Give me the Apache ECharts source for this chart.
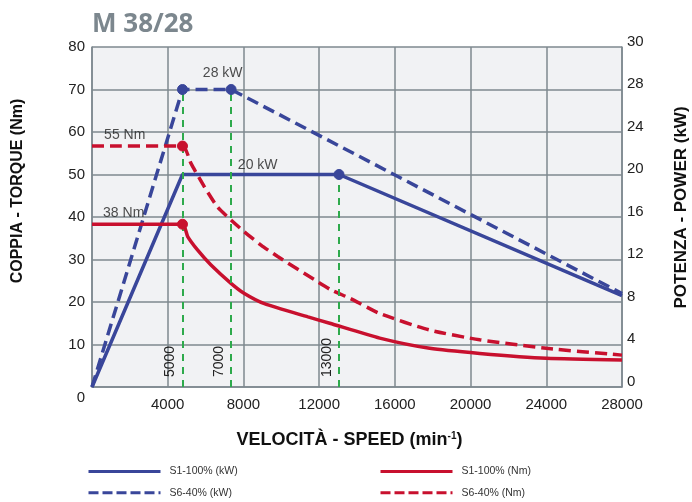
<!DOCTYPE html>
<html>
<head>
<meta charset="utf-8">
<script src="https://cdn.jsdelivr.net/npm/echarts@6/dist/echarts.min.js"></script>
<style>html,body{margin:0;padding:0;background:#fff}#c{width:692px;height:502px}</style>
</head>
<body>
<div id="c"></div>
<script>
// ---- data ----
const titleText = 'M 38/28';
const xTickLabels = ['', '4000', '8000', '12000', '16000', '20000', '24000', '28000'];
const leftTickLabels = ['0', '10', '20', '30', '40', '50', '60', '70', '80'];
const rightTickLabels = ['0', '4', '8', '12', '16', '20', '24', '28', '30'];

const s1kWSpeed = [0, 4780, 13050, 28000];
const s1kWPower = [0, 20, 20, 8.6];
const s6kWSpeed = [0, 4780, 7350, 28000];
const s6kWPower = [0, 28, 28, 8.8];

const s1NmSpeed = [0, 4780, 5056, 5584, 6287, 7343, 8051, 9108, 11411, 12558, 15199, 17840, 20482, 24006, 28000];
const s1NmTorque = [38.3, 38.3, 35.4, 32.2, 28.7, 24.4, 22.0, 19.6, 16.5, 15.0, 11.5, 9.1, 7.9, 6.75, 6.35];
const s6NmSpeed = [0, 4780, 5230, 5938, 6641, 7343, 8051, 8928, 9811, 11766, 12648, 13615, 15199, 17840, 20482, 24006, 28000];
const s6NmTorque = [56.7, 56.7, 52.6, 47.1, 42.3, 39.3, 36.5, 33.4, 30.7, 25.2, 22.8, 20.9, 17.3, 13.4, 11.1, 9.1, 7.5];

const kWDotSpeed = [4780, 7350, 13050];
const kWDotPower = [28, 28, 20];
const NmDotSpeed = [4780, 4780];
const NmDotTorque = [56.7, 38.3];

const refSpeed = [4780, 7350, 13050];
const refTop = [70, 70, 50];
const refLabels = ['5000', '7000', '13000'];

const annoText = ['28 kW', '20 kW', '55 Nm', '38 Nm'];
const annoX = [6905, 8754, 1728, 1675];
const annoY = [73.9, 52.2, 59.3, 40.9];

const legendNames = ['S1-100% (kW)', 'S6-40% (kW)', 'S1-100% (Nm)', 'S6-40% (Nm)'];

// ---- styles ----
const BLUE = '#39469a', RED = '#c8102e', GREEN = '#2eaa4c', GRID = '#7e888f';
const FONT = 'Liberation Sans, Arial, sans-serif';
const zip = (a, b) => a.map((v, i) => [v, b[i]]);
const legendText = {fontSize: 10.5, color: '#333', fontFamily: FONT, padding: [0, 0, 0, 4]};
const hideSym = {color: 'rgba(0,0,0,0)', borderColor: 'rgba(0,0,0,0)', borderWidth: 0};
const legendCommon = {orient: 'vertical', top: 466, padding: 0, itemWidth: 72, itemHeight: 14, itemGap: 10,
  itemStyle: hideSym, textStyle: legendText, selectedMode: false};
const dotSeries = (data, axis, color) => ({type: 'scatter', yAxisIndex: axis, data: data, z: 6, silent: true,
  symbol: 'circle', symbolSize: 10,
  itemStyle: {color: color, opacity: 1, borderColor: color, borderWidth: 1}});

const chart = echarts.init(document.getElementById('c'), null, {renderer: 'canvas'});
chart.setOption({
  animation: false,
  textStyle: {fontFamily: FONT},
  title: {text: titleText, left: 87, top: 7,
    textStyle: {fontSize: 26, fontWeight: 'bold', color: '#7c878e', fontFamily: 'Open Sans, sans-serif'}},
  grid: {left: 92, right: 70, top: 47, bottom: 115, show: true, backgroundColor: '#f1f2f4', borderWidth: 0,
    outerBoundsMode: 'none', containLabel: false},
  legend: [
    Object.assign({left: 87, data: [
      {name: legendNames[0], lineStyle: {width: 3}},
      {name: legendNames[1], lineStyle: {width: 3, type: [10, 4]}}]}, legendCommon),
    Object.assign({left: 379, data: [
      {name: legendNames[2], lineStyle: {width: 3}},
      {name: legendNames[3], lineStyle: {width: 3, type: [10, 4]}}]}, legendCommon)
  ],
  xAxis: {
    type: 'value', min: 0, max: 28000, interval: 4000,
    name: 'VELOCITÀ - SPEED (min{sup|-1})', nameLocation: 'middle', nameGap: 44,
    nameTextStyle: {fontSize: 18, fontWeight: 'bold', color: '#111', fontFamily: FONT, padding: [0, 15, 0, 0],
      rich: {sup: {fontSize: 10, fontWeight: 'bold', color: '#111', padding: [0, 0, 8, 0]}}},
    axisLine: {show: true, lineStyle: {color: GRID, width: 1.5}},
    axisTick: {show: false},
    splitLine: {show: true, lineStyle: {color: GRID, width: 1.5}},
    axisLabel: {fontSize: 15, color: '#222', margin: 10,
      formatter: v => xTickLabels[Math.round(v / 4000)]}
  },
  yAxis: [
    {type: 'value', min: 0, max: 80, interval: 10, position: 'left',
     name: 'COPPIA - TORQUE (Nm)', nameLocation: 'middle', nameGap: 66, nameRotate: 90,
     nameTextStyle: {fontSize: 16, fontWeight: 'bold', color: '#111', padding: [0, 0, 0, 52]},
     axisLine: {show: true, lineStyle: {color: GRID, width: 1.5}},
     axisTick: {show: false},
     splitLine: {show: true, lineStyle: {color: GRID, width: 1.5}},
     axisLabel: {fontSize: 15, color: '#222', margin: 7,
       formatter: v => v === 0 ? '{z|' + leftTickLabels[0] + '}' : leftTickLabels[Math.round(v / 10)],
       rich: {z: {fontSize: 15, color: '#222', padding: [21, 0, 0, 0]}}}},
    {type: 'value', min: 0, max: 32, interval: 4, position: 'right',
     name: 'POTENZA - POWER (kW)', nameLocation: 'middle', nameGap: 51, nameRotate: 90,
     nameTextStyle: {fontSize: 17, fontWeight: 'bold', color: '#111', padding: [0, 0, 0, 19]},
     axisLine: {show: true, lineStyle: {color: GRID, width: 1.5}},
     axisTick: {show: false},
     splitLine: {show: false},
     axisLabel: {fontSize: 15, color: '#222', margin: 5, verticalAlign: 'bottom', lineHeight: 11,
       formatter: v => rightTickLabels[Math.round(v / 4)]}}
  ],
  series: [
    {type: 'line', name: 'refs', data: [], silent: true, z: 1,
     markLine: {silent: true, symbol: ['none', 'none'], animation: false,
       lineStyle: {color: GREEN, type: [7, 6], width: 2},
       label: {show: true, position: 'insideStartTop', distance: [10, 5], color: '#222', fontSize: 14, formatter: p => p.name},
       emphasis: {disabled: true},
       data: refSpeed.map((x, i) => [{name: refLabels[i], coord: [x, 0]}, {coord: [x, refTop[i]]}])}},
    {type: 'line', name: legendNames[0], yAxisIndex: 1, data: zip(s1kWSpeed, s1kWPower), symbol: 'none', z: 3,
     lineStyle: {color: BLUE, width: 3.5}, itemStyle: {color: BLUE}},
    {type: 'line', name: legendNames[1], yAxisIndex: 1, data: zip(s6kWSpeed, s6kWPower), symbol: 'none', z: 3,
     lineStyle: {color: BLUE, width: 3.5, type: [12, 6]}, itemStyle: {color: BLUE}},
    {type: 'line', name: legendNames[2], yAxisIndex: 0, data: zip(s1NmSpeed, s1NmTorque), symbol: 'none', z: 3,
     smooth: 0.2, lineStyle: {color: RED, width: 3.5}, itemStyle: {color: RED}},
    {type: 'line', name: legendNames[3], yAxisIndex: 0, data: zip(s6NmSpeed, s6NmTorque), symbol: 'none', z: 3,
     smooth: 0.2, lineStyle: {color: RED, width: 3.5, type: [12, 6]}, itemStyle: {color: RED}},
    dotSeries(zip(kWDotSpeed, kWDotPower), 1, BLUE),
    dotSeries(zip(NmDotSpeed, NmDotTorque), 0, RED),
    {type: 'scatter', yAxisIndex: 0, data: annoX.map((x, i) => [x, annoY[i], annoText[i]]), symbolSize: 0, z: 5, silent: true,
     label: {show: true, position: 'inside', color: '#222', fontSize: 14, formatter: p => p.data[2]}}
  ]
});
</script>
</body>
</html>
